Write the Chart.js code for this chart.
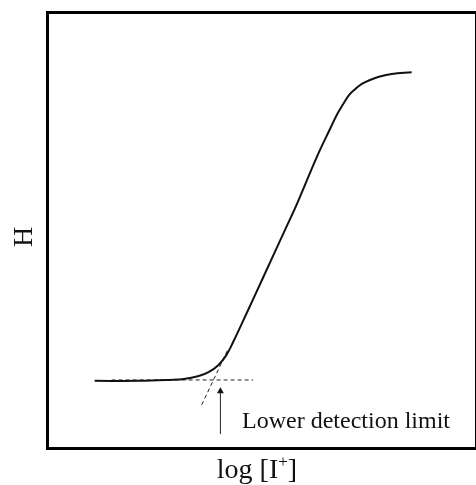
<!DOCTYPE html>
<html>
<head>
<meta charset="utf-8">
<script src="https://cdn.jsdelivr.net/npm/chart.js@4"></script>
<style>
  html, body { margin: 0; padding: 0; background: #fff; }
  #wrap { width: 476px; height: 485px; }
</style>
</head>
<body>
<div id="wrap"><canvas id="curve"></canvas></div>
<script>
// response curve H vs log [I+]
const logI = [11.2, 21.7, 28.7, 32.2, 35.7, 38.0, 40.3, 42.2, 43.8, 47.3, 50.8, 55.9, 59.0, 63.6, 66.7, 68.3, 69.7, 71.1, 72.5, 74.1, 76.0, 78.3, 81.1, 85.8];
const hValues = [15.4, 15.4, 15.6, 15.8, 16.5, 17.4, 19.0, 21.3, 24.3, 31.6, 39.0, 49.8, 56.4, 67.0, 73.4, 76.6, 78.9, 81.0, 82.3, 83.5, 84.4, 85.2, 85.8, 86.2];

// baseline and tangent used to find the detection limit
const baseX = [15.2, 48.5];
const baseY = [15.6, 15.6];
const tangentX = [36.4, 42.7];
const tangentY = [9.9, 22.9];

// arrow pointing at the limit
const arrowX = [40.8, 40.8];
const arrowY = [3.2, 13.0];

const limitLabel = 'Lower detection limit';

const pts = (xs, ys) => xs.map((x, i) => ({ x: x, y: ys[i] }));

const frameAndText = {
    id: 'frameAndText',
    afterDraw(chart) {
        const ctx = chart.ctx;
        const a = chart.chartArea;
        const xs = chart.scales.x;
        const ys = chart.scales.y;
        ctx.save();

        // frame (right side runs past the canvas edge)
        ctx.strokeStyle = '#000';
        ctx.lineWidth = 3;
        ctx.strokeRect(a.left + 0.5, a.top + 0.5, a.right - a.left + 4, a.bottom - a.top);

        ctx.fillStyle = '#111';
        ctx.textBaseline = 'alphabetic';

        // annotation next to the arrow
        ctx.font = '24px "Liberation Serif", "Times New Roman", serif';
        ctx.textAlign = 'left';
        ctx.fillText(limitLabel, xs.getPixelForValue(45.9), ys.getPixelForValue(4.6));

        // x title: log [I+] with raised plus
        ctx.font = '28px "Liberation Serif", serif';
        const main = 'log [I';
        const wMain = ctx.measureText(main).width;
        ctx.font = '17px "Liberation Serif", serif';
        const wPlus = ctx.measureText('+').width;
        ctx.font = '28px "Liberation Serif", serif';
        const wEnd = ctx.measureText(']').width;
        let x0 = 257 - (wMain + wPlus + wEnd) / 2;
        const base = 478;
        ctx.fillText(main, x0, base);
        x0 += wMain;
        ctx.font = '17px "Liberation Serif", serif';
        ctx.fillText('+', x0, base - 11);
        x0 += wPlus;
        ctx.font = '28px "Liberation Serif", serif';
        ctx.fillText(']', x0, base);

        // y title
        ctx.translate(32, 237);
        ctx.rotate(-Math.PI / 2);
        ctx.textAlign = 'center';
        ctx.fillText('H', 0, 0);

        ctx.restore();
    }
};

new Chart(document.getElementById('curve'), {
    type: 'scatter',
    data: {
        datasets: [
            {
                data: pts(logI, hValues),
                showLine: true,
                borderColor: '#111',
                borderWidth: 2,
                pointRadius: 0,
                tension: 0.4
            },
            {
                data: pts(baseX, baseY),
                showLine: true,
                borderColor: '#222',
                borderWidth: 1,
                borderDash: [4, 3],
                pointRadius: 0
            },
            {
                data: pts(tangentX, tangentY),
                showLine: true,
                borderColor: '#222',
                borderWidth: 1,
                borderDash: [4, 3],
                pointRadius: 0
            },
            {
                data: pts(arrowX, arrowY),
                showLine: true,
                borderColor: '#222',
                borderWidth: 1,
                backgroundColor: '#111',
                pointStyle: 'triangle',
                pointRadius: [0, 4],
                pointBorderWidth: 0
            }
        ]
    },
    options: {
        responsive: true,
        maintainAspectRatio: false,
        animation: false,
        layout: { padding: { left: 47, top: 12, right: 0, bottom: 37 } },
        plugins: {
            legend: { display: false },
            tooltip: { enabled: false }
        },
        scales: {
            x: { type: 'linear', min: 0, max: 100, display: false },
            y: { type: 'linear', min: 0, max: 100, display: false }
        }
    },
    plugins: [frameAndText]
});
</script>
</body>
</html>
